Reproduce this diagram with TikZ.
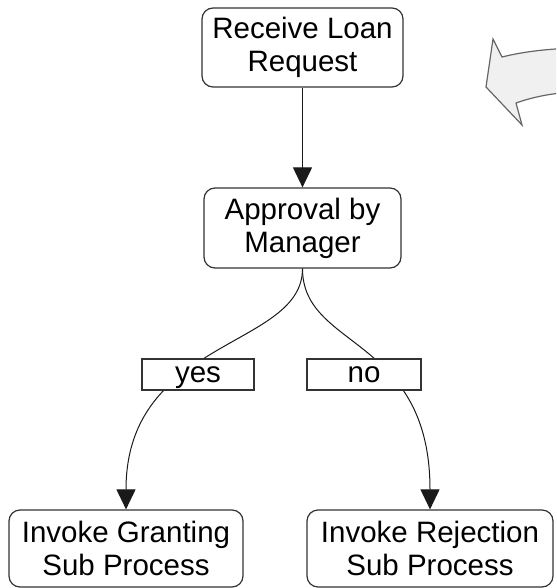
\documentclass[tikz,border=0pt]{standalone}
\usepackage{fontspec}
\setmainfont{Liberation Sans}
\usetikzlibrary{arrows.meta}
\definecolor{boxline}{HTML}{333333}
\definecolor{linecol}{HTML}{1A1A1A}
\definecolor{bigarrowfill}{HTML}{F0F0F0}
\definecolor{bigarrowline}{HTML}{666666}
\begin{document}
\begin{tikzpicture}[x=1pt,y=1pt,
  labelfont/.style={font=\fontsize{29.5}{33}\selectfont},
  stepbox/.style={draw=boxline, line width=1.2pt, rounded corners=11pt,
    fill=white, align=center, inner sep=0pt, labelfont},
  tagbox/.style={draw=boxline, line width=1.2pt, fill=white, inner sep=0pt,
    text height=21pt, text depth=5pt, labelfont},
  flow/.style={draw=linecol, line width=1pt,
    -{Triangle[length=20pt,width=19pt]}}]
\useasboundingbox (0,0) rectangle (556,-588);

% process steps
\node[stepbox, minimum width=201pt, minimum height=79pt] (receive) at (302.5,-47.5) {Receive Loan\\Request};
\node[stepbox, minimum width=197pt, minimum height=80pt] (approval) at (302.5,-228) {Approval by\\Manager};
\node[stepbox, minimum width=234pt, minimum height=77pt] (grant) at (126,-548.5) {Invoke Granting\\Sub Process};
\node[stepbox, minimum width=246pt, minimum height=77pt] (reject) at (430,-548.5) {Invoke Rejection\\Sub Process};

% flow connectors
\draw[flow] (receive.south) -- (approval.north);
\draw[flow] (approval.south) .. controls +(0,-80) and +(0,172) .. (grant.north);
\draw[flow] (approval.south) .. controls +(0,-81) and +(0,174) .. (reject.north);

% decision tags on the branches
\node[tagbox, minimum width=112pt, minimum height=31pt] (yes) at (198,-374.5) {yes};
\node[tagbox, minimum width=114pt, minimum height=31pt] (no) at (364,-374.5) {no};

% large curved arrow at the top right
\begin{scope}
  \clip (0,0) rectangle (556,-588);
  \draw[draw=bigarrowline, line width=1.2pt, fill=bigarrowfill, line join=miter]
    (502,-57) .. controls (522,-52) and (545,-49) .. (575,-48)
    -- (575,-92) .. controls (550,-93) and (530,-98) .. (516,-103)
    -- (522,-125) -- (486,-87) -- (493,-39) -- cycle;
\end{scope}
\end{tikzpicture}
\end{document}
